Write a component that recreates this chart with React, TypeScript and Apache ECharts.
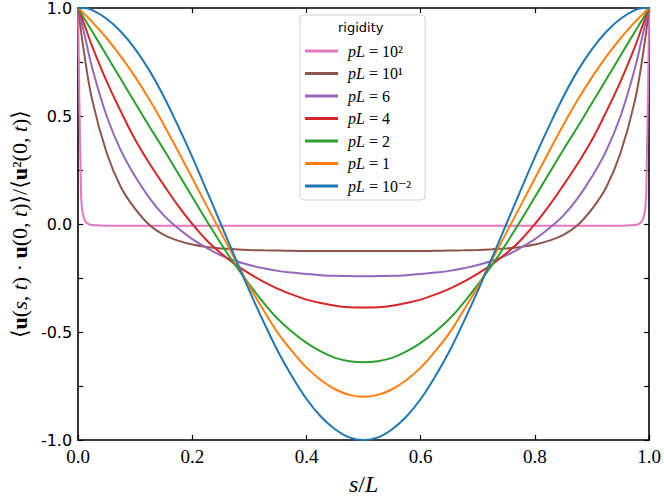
import React, { useEffect, useRef } from "react";
import * as echarts from "echarts";

// sample positions s/L shared by the smooth curves
const S = [0, 0.01, 0.025, 0.05, 0.075, 0.1, 0.125, 0.15, 0.175, 0.2, 0.225, 0.25, 0.275, 0.3, 0.325, 0.35,
  0.375, 0.4, 0.425, 0.45, 0.475, 0.5, 0.525, 0.55, 0.575, 0.6, 0.625, 0.65, 0.675, 0.7, 0.725, 0.75,
  0.775, 0.8, 0.825, 0.85, 0.875, 0.9, 0.925, 0.95, 0.975, 0.99, 1];

// sample positions for the very stiff curve (steep edges)
const S_PINK = [0, 0.002, 0.004, 0.005, 0.007, 0.01, 0.013, 0.016, 0.02, 0.03, 0.05, 0.5,
  0.95, 0.97, 0.98, 0.984, 0.987, 0.99, 0.993, 0.995, 0.996, 0.998, 1];

const PL100 = [1, 0.6, 0.3, 0.15, 0.065, 0.03, 0.012, 0.004, -0.002, -0.006, -0.008, -0.008,
  -0.008, -0.006, -0.002, 0.004, 0.012, 0.03, 0.065, 0.15, 0.3, 0.6, 1];
const PL10 = [1, 0.8, 0.57, 0.33, 0.17, 0.07, -0.005, -0.05, -0.077, -0.095, -0.106, -0.113, -0.117, -0.12,
  -0.122, -0.123, -0.124, -0.125, -0.125, -0.125, -0.125, -0.125,
  -0.125, -0.125, -0.125, -0.125, -0.124, -0.123, -0.122, -0.12, -0.117, -0.113, -0.106, -0.095, -0.077,
  -0.05, -0.005, 0.07, 0.17, 0.33, 0.57, 0.8, 1];
const PL6 = [1, 0.89, 0.72, 0.5, 0.34, 0.22, 0.12, 0.04, -0.02, -0.07, -0.11, -0.145, -0.17, -0.19, -0.205,
  -0.217, -0.225, -0.232, -0.237, -0.24, -0.241, -0.242,
  -0.241, -0.24, -0.237, -0.232, -0.225, -0.217, -0.205, -0.19, -0.17, -0.145, -0.11, -0.07, -0.02, 0.04,
  0.12, 0.22, 0.34, 0.5, 0.72, 0.89, 1];
const PL4 = [1, 0.93, 0.82, 0.66, 0.52, 0.39, 0.28, 0.18, 0.085, 0.0, -0.075, -0.135, -0.187, -0.23, -0.268,
  -0.3, -0.327, -0.35, -0.366, -0.378, -0.385, -0.387,
  -0.385, -0.378, -0.366, -0.35, -0.327, -0.3, -0.268, -0.23, -0.187, -0.135, -0.075, 0.0, 0.085, 0.18,
  0.28, 0.39, 0.52, 0.66, 0.82, 0.93, 1];
const PL2 = [1, 0.955, 0.89, 0.78, 0.67, 0.56, 0.45, 0.345, 0.235, 0.125, 0.015, -0.09, -0.19, -0.28, -0.365,
  -0.44, -0.5, -0.55, -0.59, -0.62, -0.635, -0.64,
  -0.635, -0.62, -0.59, -0.55, -0.5, -0.44, -0.365, -0.28, -0.19, -0.09, 0.015, 0.125, 0.235, 0.345,
  0.45, 0.56, 0.67, 0.78, 0.89, 0.955, 1];
const PL1 = [1, 0.975, 0.935, 0.86, 0.775, 0.68, 0.575, 0.46, 0.337, 0.212, 0.085, -0.04, -0.165, -0.29, -0.4,
  -0.505, -0.59, -0.665, -0.722, -0.765, -0.791, -0.8,
  -0.791, -0.765, -0.722, -0.665, -0.59, -0.505, -0.4, -0.29, -0.165, -0.04, 0.085, 0.212, 0.337, 0.46,
  0.575, 0.68, 0.775, 0.86, 0.935, 0.975, 1];
const PL001 = [1, 1.0, 0.99, 0.95, 0.89, 0.81, 0.71, 0.59, 0.454, 0.31, 0.156, 0.0, -0.156, -0.31, -0.454,
  -0.59, -0.707, -0.81, -0.891, -0.95, -0.988, -1.0,
  -0.988, -0.95, -0.891, -0.81, -0.707, -0.59, -0.454, -0.31, -0.156, 0.0, 0.156, 0.31, 0.454, 0.59,
  0.71, 0.81, 0.89, 0.95, 0.99, 1.0, 1];

const NAMES = ["pL = 10²", "pL = 10¹", "pL = 6", "pL = 4", "pL = 2", "pL = 1", "pL = 10⁻²"];
const COLORS = ["#e377c2", "#8c564b", "#9467bd", "#d62728", "#2ca02c", "#ff7f0e", "#1f77b4"];
const X_TICKS = [0, 0.2, 0.4, 0.6, 0.8, 1];
const Y_LABELS = [-1, -0.5, 0, 0.5, 1];

const SERIF = "'Liberation Serif', 'DejaVu Serif', serif";
const SANS = "'DejaVu Sans', sans-serif";

function zip(xs: number[], ys: number[]) {
  return xs.map((x, i) => [x, ys[i]]);
}

export default function App() {
  const ref = useRef<HTMLDivElement>(null);
  useEffect(() => {
    if (!ref.current) return;
    const chart = echarts.init(ref.current, undefined, { renderer: "svg" });
    const curves = [
      zip(S_PINK, PL100),
      zip(S, PL10),
      zip(S, PL6),
      zip(S, PL4),
      zip(S, PL2),
      zip(S, PL1),
      zip(S, PL001),
    ];
    const axisLine = { show: true, onZero: false, lineStyle: { color: "#000", width: 1.6 } };
    const tick = { show: true, inside: true, length: 5, lineStyle: { color: "#000", width: 1.2 } };
    chart.setOption({
      animation: false,
      backgroundColor: "#fff",
      grid: { left: 73, right: 13, top: 7, bottom: 56, containLabel: false },
      legend: {
        orient: "vertical",
        left: 300,
        top: 15,
        padding: [28, 14, 6, 5],
        icon: "rect",
        itemWidth: 33,
        itemHeight: 3,
        itemGap: 6.5,
        backgroundColor: "#fff",
        borderColor: "#d0d0d0",
        borderWidth: 1,
        borderRadius: 4,
        selectedMode: false,
        data: NAMES,
        formatter: (n: string) => "{i|pL}{r|" + n.slice(2) + "}",
        textStyle: {
          color: "#000",
          fontFamily: SERIF,
          fontSize: 16,
          lineHeight: 15,
          padding: [0, 0, 0, 5],
          rich: {
            i: { fontFamily: SERIF, fontStyle: "italic", fontSize: 16, lineHeight: 15, color: "#000" },
            r: { fontFamily: SERIF, fontSize: 16, lineHeight: 15, color: "#000" },
          },
        },
      },
      graphic: [
        {
          type: "text",
          left: 338,
          top: 21,
          style: { text: "rigidity", font: "13px 'DejaVu Sans', sans-serif", fill: "#000" },
          z: 100,
        },
      ],
      xAxis: [
        {
          type: "value",
          min: 0,
          max: 1,
          interval: 0.2,
          position: "bottom",
          axisLine,
          axisTick: tick,
          splitLine: { show: false },
          axisLabel: {
            color: "#000",
            fontFamily: SERIF,
            fontSize: 19,
            margin: 7,
            formatter: (v: number) => (X_TICKS.some((t) => Math.abs(t - v) < 1e-9) ? v.toFixed(1) : ""),
          },
          name: "{i|s}{n|/}{i|L}",
          nameLocation: "middle",
          nameGap: 32,
          nameTextStyle: {
            rich: {
              i: { fontFamily: SERIF, fontStyle: "italic", fontSize: 24, color: "#000" },
              n: { fontFamily: SERIF, fontSize: 24, color: "#000" },
            },
          },
        },
        {
          type: "value",
          min: 0,
          max: 1,
          interval: 0.2,
          position: "top",
          axisLine,
          axisTick: tick,
          axisLabel: { show: false },
          splitLine: { show: false },
        },
      ],
      yAxis: [
        {
          type: "value",
          min: -1,
          max: 1,
          interval: 0.25,
          position: "left",
          axisLine,
          axisTick: tick,
          splitLine: { show: false },
          axisLabel: {
            color: "#000",
            fontFamily: SANS,
            fontSize: 16,
            margin: 6,
            formatter: (v: number) => (Y_LABELS.some((t) => Math.abs(t - v) < 1e-9) ? v.toFixed(1) : ""),
          },
          name:
            "{n|⟨}{b|u}{n|(}{i|s}{n|, }{i|t}{n|) · }{b|u}{n|(0, }{i|t}{n|)⟩/⟨}{b|u}{n|²(0, }{i|t}{n|)⟩}",
          nameLocation: "middle",
          nameRotate: 90,
          nameGap: 47,
          nameTextStyle: {
            rich: {
              n: { fontFamily: SERIF, fontSize: 22, color: "#000" },
              i: { fontFamily: SERIF, fontStyle: "italic", fontSize: 22, color: "#000" },
              b: { fontFamily: SERIF, fontWeight: "bold", fontSize: 22, color: "#000" },
            },
          },
        },
        {
          type: "value",
          min: -1,
          max: 1,
          interval: 0.25,
          position: "right",
          axisLine,
          axisTick: tick,
          axisLabel: { show: false },
          splitLine: { show: false },
        },
      ],
      series: curves.map((d, i) => ({
        type: "line",
        name: NAMES[i],
        data: d,
        showSymbol: false,
        symbol: "none",
        smooth: i === 0 ? 0.15 : 0.4,
        color: COLORS[i],
        lineStyle: { color: COLORS[i], width: 2 },
        xAxisIndex: 0,
        yAxisIndex: 0,
      })),
    });
    return () => chart.dispose();
  }, []);
  return <div ref={ref} style={{ position: "fixed", left: 0, top: 0, width: 664, height: 501 }} />;
}
